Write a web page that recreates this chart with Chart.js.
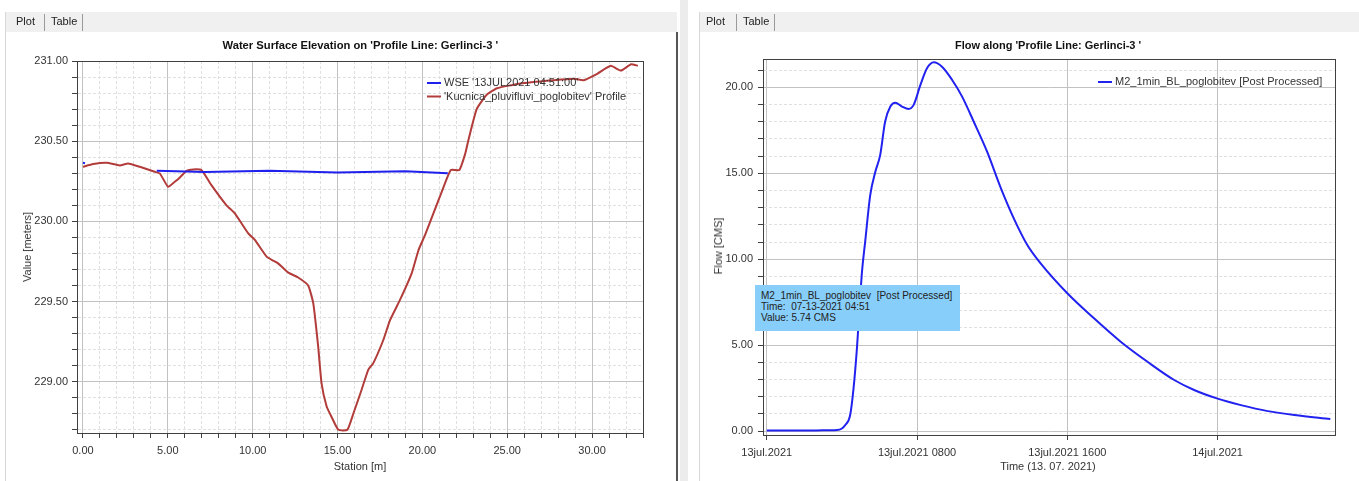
<!DOCTYPE html>
<html>
<head>
<meta charset="utf-8">
<script src="https://cdn.jsdelivr.net/npm/chart.js@4.4.0/dist/chart.umd.min.js"></script>
<style>
body { margin:0; width:1359px; height:481px; overflow:hidden; background:#fff; position:relative;
       font-family:"Liberation Sans", Arial, sans-serif; color:#333; }
.abs { position:absolute; }
.strip { background:#f0f0f0; height:20px; }
.tab { position:absolute; top:15px; font-size:11px; color:#222; }
.sep { position:absolute; top:14px; width:1px; height:17px; background:#9a9a9a; }
.title { position:absolute; top:39px; font-size:11px; font-weight:bold; color:#111; white-space:nowrap; transform-origin:center; }
.axt { position:absolute; font-size:11px; color:#333; white-space:nowrap; }
#tip { position:absolute; left:755px; top:285px; width:205px; height:46px; background:#87cefa;
       font-size:10px; line-height:11px; color:#222; padding:5px 0 0 6px; box-sizing:border-box; white-space:nowrap; }
</style>
</head>
<body>
<!-- panel chrome -->
<div class="abs" style="left:5px;top:12px;width:672px;height:469px;border-left:1px solid #d8d8d8;"></div>
<div class="abs strip" style="left:6px;top:12px;width:671px;"></div>
<div class="abs" style="left:676px;top:32px;width:2px;height:449px;background:#555;"></div>
<div class="abs" style="left:680px;top:0;width:8px;height:481px;background:#ececec;"></div>
<div class="abs" style="left:699px;top:12px;width:660px;height:469px;border-left:1px solid #d8d8d8;"></div>
<div class="abs strip" style="left:700px;top:12px;width:659px;"></div>

<canvas id="left" class="abs" style="left:0;top:0" width="680" height="481"></canvas>
<canvas id="right" class="abs" style="left:680px;top:0" width="679" height="481"></canvas>

<span class="tab" style="left:16px">Plot</span>
<div class="sep" style="left:44px"></div>
<span class="tab" style="left:51px">Table</span>
<div class="sep" style="left:82px"></div>
<span class="tab" style="left:706px">Plot</span>
<div class="sep" style="left:736px"></div>
<span class="tab" style="left:743px">Table</span>
<div class="sep" style="left:774px"></div>

<div class="title" id="t1">Water Surface Elevation on 'Profile Line: Gerlinci-3 '</div>
<div class="title" id="t2">Flow along 'Profile Line: Gerlinci-3 '</div>

<div class="axt" style="left:27px;top:247px;transform:translate(-50%,-50%) rotate(-90deg);">Value [meters]</div>
<div class="axt" style="left:718px;top:246px;transform:translate(-50%,-50%) rotate(-90deg);">Flow [CMS]</div>
<div class="axt" style="left:360px;top:466px;transform:translate(-50%,-50%);">Station [m]</div>
<div class="axt" style="left:1048px;top:466px;transform:translate(-50%,-50%);">Time (13. 07. 2021)</div>

<div id="tip">M2_1min_BL_poglobitev &nbsp;[Post Processed]<br>Time: &nbsp;07-13-2021 04:51<br>Value: 5.74 CMS</div>

<script>
// ---- left chart data: terrain profile and water surface
var profileStation = [0, 0.6, 1.4, 2.17, 2.66, 3.35, 4.23, 4.53, 5.02, 5.41, 5.71, 6.1, 6.49, 6.98, 7.57,
  8.46, 8.95, 9.74, 10.13, 10.82, 11.21, 11.5, 12.1, 12.68, 13.27, 13.57, 13.86, 14.06, 14.36, 14.65,
  15.05, 15.58, 15.93, 16.42, 16.81, 17.11, 17.7, 18.1, 18.68, 19.37, 19.77, 20.16, 20.65, 21.14,
  21.67, 22.18, 22.52, 22.71, 23.2, 23.8, 24.4, 25.8, 27.7, 28.9, 29.5, 30.3, 31.1, 31.7, 32.3, 32.7];
var profileElev = [230.34, 230.357, 230.365, 230.349, 230.361, 230.34, 230.309, 230.299, 230.215, 230.247,
  230.274, 230.315, 230.324, 230.32, 230.226, 230.10, 230.05, 229.925, 229.884, 229.78, 229.755, 229.738,
  229.68, 229.65, 229.60, 229.49, 229.22, 228.99, 228.845, 228.78, 228.70, 228.70, 228.80, 228.95,
  229.074, 229.116, 229.26, 229.385, 229.51, 229.676, 229.82, 229.915, 230.05, 230.184, 230.32, 230.32,
  230.42, 230.506, 230.70, 230.79, 230.83, 230.86, 230.88, 230.89, 230.88, 230.92, 230.97, 230.94, 230.98, 230.97];
var wseStation = [0, 0.12, 2, 4.35, 7.2, 11, 15, 19, 21.5];
var wseValue = [230.365, 230.362, null, 230.315, 230.307, 230.315, 230.305, 230.313, 230.30];
var leftXLabels = [0, 5, 10, 15, 20, 25, 30];
var leftYLabels = [229.0, 229.5, 230.0, 230.5, 231.0];

// ---- right chart data: flow hydrograph, hours from 13jul.2021 00:00
var flowHours = [0, 1, 2, 3, 3.73, 4.0, 4.18, 4.44, 4.62, 4.8, 4.89, 5.07, 5.24, 5.51, 5.78, 6.04, 6.3,
  6.58, 6.84, 7.2, 7.55, 7.82, 8.18, 8.53, 8.89, 9.33, 9.87, 10.4, 11.02, 11.73, 12.44, 13.15, 13.87,
  14.58, 16.0, 17.42, 18.84, 20.27, 21.69, 22.75, 23.96, 25.24, 26.67, 28.09, 30.0];
var flowValue = [0.03, 0.03, 0.03, 0.04, 0.06, 0.15, 0.35, 0.93, 2.48, 4.81, 6.3, 9.27, 11.02, 13.74,
  15.09, 16.07, 18.0, 18.88, 19.11, 18.88, 18.74, 18.98, 20.14, 21.11, 21.46, 21.2, 20.43, 19.46, 18.0,
  16.26, 14.2, 12.38, 10.83, 9.76, 8.02, 6.56, 5.2, 4.03, 2.97, 2.39, 1.9, 1.51, 1.16, 0.93, 0.70];
var timeTickHours = [0, 8, 16, 24];
var timeTickLabels = ['13jul.2021', '13jul.2021 0800', '13jul.2021 1600', '14jul.2021'];
var rightYLabels = [0, 5, 10, 15, 20];

var FONT = { family: '"Liberation Sans", Arial, sans-serif', size: 11 };
var AXIS = '#404040';

function isIn(list, v) {
  return list.some(function (x) { return Math.abs(x - v) < 1e-6; });
}
function pts(xs, ys) {
  return xs.map(function (x, i) { return { x: x, y: ys[i] }; });
}
function stepTicks(step) {
  return function (scale) {
    var t = [];
    var k0 = Math.ceil(scale.min / step - 1e-9), k1 = Math.floor(scale.max / step + 1e-9);
    for (var k = k0; k <= k1; k++) t.push({ value: +(k * step).toFixed(6) });
    scale.ticks = t;
  };
}
function gridOpts(major) {
  return {
    color: function (c) { return c.tick && isIn(major, c.tick.value) ? '#c2c2c2' : '#e0e0e0'; },
    tickColor: AXIS, tickLength: 5, lineWidth: 1
  };
}
function borderOpts(major) {
  return {
    color: AXIS, width: 1,
    dash: function (c) { return c.tick && !isIn(major, c.tick.value) ? [3, 2] : []; }
  };
}

// frame round the plot and a legend inside it
var framePlugin = {
  id: 'frame',
  afterDraw: function (chart, args, opts) {
    var ctx = chart.ctx, a = chart.chartArea;
    ctx.save();
    ctx.strokeStyle = AXIS;
    ctx.lineWidth = 1;
    ctx.strokeRect(Math.round(a.left) + 0.5, Math.round(a.top) + 0.5,
      Math.round(a.right - a.left), Math.round(a.bottom - a.top));
    ctx.font = '11px "Liberation Sans", Arial, sans-serif';
    ctx.textBaseline = 'middle';
    (opts.items || []).forEach(function (it, i) {
      var y = opts.y + i * 13.5;
      ctx.strokeStyle = it.color;
      ctx.lineWidth = 2;
      ctx.beginPath(); ctx.moveTo(opts.x, y); ctx.lineTo(opts.x + 14, y); ctx.stroke();
      ctx.fillStyle = '#333';
      ctx.fillText(it.text, opts.x + 17, y);
    });
    ctx.restore();
  }
};

Chart.defaults.font.family = FONT.family;
Chart.defaults.font.size = 11;
Chart.defaults.color = '#333';

new Chart(document.getElementById('left'), {
  type: 'line',
  data: {
    datasets: [{
      label: "WSE '13JUL2021 04:51:00'",
      data: pts(wseStation, wseValue),
      borderColor: '#2020ee', borderWidth: 2, pointRadius: 0, spanGaps: false, tension: 0
    }, {
      label: "'Kucnica_pluvifluvi_poglobitev' Profile",
      data: pts(profileStation, profileElev),
      borderColor: '#b23c3a', borderWidth: 2, pointRadius: 0, tension: 0.15
    }]
  },
  options: {
    responsive: false, animation: false, devicePixelRatio: 1,
    layout: { padding: { left: 0, top: 61, right: 37, bottom: 0 } },
    plugins: {
      legend: { display: false }, tooltip: { enabled: false },
      frame: { x: 427, y: 83, items: [
        { color: '#2020ee', text: "WSE '13JUL2021 04:51:00'" },
        { color: '#b23c3a', text: "'Kucnica_pluvifluvi_poglobitev' Profile" }] }
    },
    scales: {
      x: {
        type: 'linear', min: -0.35, max: 33.0,
        afterBuildTicks: stepTicks(1),
        afterFit: function (s) { s.height = 48; },
        grid: gridOpts(leftXLabels), border: borderOpts(leftXLabels),
        ticks: { autoSkip: false, maxRotation: 0, padding: 6, color: '#333',
          callback: function (v) { return isIn(leftXLabels, v) ? v.toFixed(2) : ''; } }
      },
      y: {
        type: 'linear', min: 228.68, max: 231.0,
        afterBuildTicks: stepTicks(0.1),
        afterFit: function (s) { s.width = 77; },
        grid: gridOpts(leftYLabels), border: borderOpts(leftYLabels),
        ticks: { autoSkip: false, padding: 4, color: '#333',
          callback: function (v) { return isIn(leftYLabels, v) ? v.toFixed(2) : ''; } }
      }
    }
  },
  plugins: [framePlugin]
});

new Chart(document.getElementById('right'), {
  type: 'line',
  data: {
    datasets: [{
      label: 'M2_1min_BL_poglobitev [Post Processed]',
      data: pts(flowHours, flowValue),
      borderColor: '#2222f0', borderWidth: 2, pointRadius: 0, cubicInterpolationMode: 'monotone'
    }]
  },
  options: {
    responsive: false, animation: false, devicePixelRatio: 1,
    layout: { padding: { left: 0, top: 59, right: 24, bottom: 0 } },
    plugins: {
      legend: { display: false }, tooltip: { enabled: false },
      frame: { x: 418, y: 82, items: [{ color: '#2222f0', text: 'M2_1min_BL_poglobitev [Post Processed]' }] }
    },
    scales: {
      x: {
        type: 'linear', min: -0.2, max: 30.25,
        afterBuildTicks: function (s) { s.ticks = timeTickHours.map(function (h) { return { value: h }; }); },
        afterFit: function (s) { s.height = 46; },
        grid: gridOpts(timeTickHours), border: borderOpts(timeTickHours),
        ticks: { autoSkip: false, maxRotation: 0, padding: 6, color: '#333',
          callback: function (v) { var i = timeTickHours.indexOf(v); return i < 0 ? '' : timeTickLabels[i]; } }
      },
      y: {
        type: 'linear', min: -0.23, max: 21.65,
        afterBuildTicks: stepTicks(1),
        afterFit: function (s) { s.width = 83; },
        grid: gridOpts(rightYLabels), border: borderOpts(rightYLabels),
        ticks: { autoSkip: false, padding: 5, color: '#333',
          callback: function (v) { return isIn(rightYLabels, v) ? v.toFixed(2) : ''; } }
      }
    }
  },
  plugins: [framePlugin]
});

// titles: centre over the plots, squeeze to the width seen in the original
function placeTitle(id, cx, w) {
  var el = document.getElementById(id);
  var nat = el.offsetWidth;
  el.style.left = (cx - nat / 2) + 'px';
  el.style.transform = 'scaleX(' + (w / nat) + ')';
}
placeTitle('t1', 360, 276);
placeTitle('t2', 1048, 186);
</script>
</body>
</html>
